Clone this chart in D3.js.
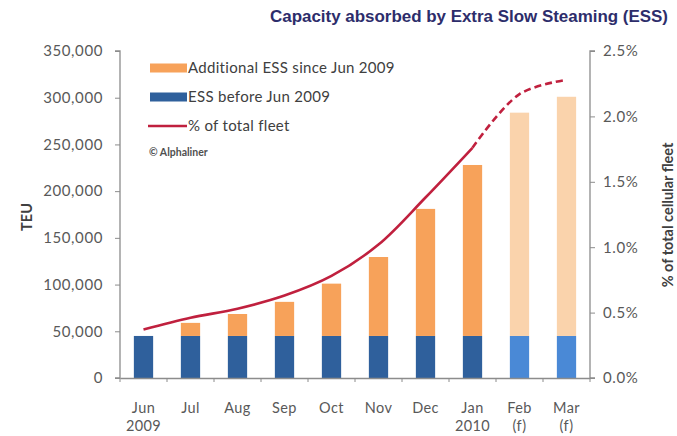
<!DOCTYPE html>
<html>
<head>
<meta charset="utf-8">
<script src="https://cdn.jsdelivr.net/npm/d3@7/dist/d3.min.js"></script>
<style>
  html, body { margin: 0; padding: 0; background: #fff; }
  svg { display: block; }
</style>
</head>
<body>
<svg id="chart" width="677" height="436"></svg>
<script>
// Monthly capacity absorbed by extra slow steaming
const months      = ["Jun", "Jul", "Aug", "Sep", "Oct", "Nov", "Dec", "Jan", "Feb", "Mar"];
const monthSub    = ["2009", "", "", "", "", "", "", "2010", "(f)", "(f)"];
const forecast    = [false, false, false, false, false, false, false, false, true, true];
const essBefore   = [45000, 45000, 45000, 45000, 45000, 45000, 45000, 45000, 45000, 45000];
const essAdded    = [0, 14000, 23500, 36500, 56000, 84500, 136000, 183000, 239000, 256000];
const pctFleet    = [0.37, 0.46, 0.53, 0.63, 0.78, 1.02, 1.38, 1.76, 2.17, 2.28];
const teuTicks    = [0, 50000, 100000, 150000, 200000, 250000, 300000, 350000];
const pctTicks    = [0, 0.5, 1.0, 1.5, 2.0, 2.5];

const svg = d3.select("#chart");
const plotLeft = 120, plotRight = 590, plotTop = 51, plotBottom = 378;
const axisColor = "#8c8c8c", labelColor = "#595959";
const font = "Lato, 'Open Sans', sans-serif";

const x = d3.scaleBand().domain(months).range([plotLeft, plotRight]).paddingInner(0.59).paddingOuter(0.295);
const xStep = d3.scaleBand().domain(months).range([plotLeft, plotRight]);
const y = d3.scaleLinear().domain([0, 350000]).range([plotBottom, plotTop]);
const y2 = d3.scaleLinear().domain([0, 2.5]).range([plotBottom, plotTop]);

// Title
svg.append("text")
  .attr("x", 270).attr("y", 22)
  .attr("font-family", "'Liberation Sans', Arial, sans-serif")
  .attr("font-weight", "bold")
  .attr("font-size", 16)
  .attr("textLength", 398)
  .attr("lengthAdjust", "spacingAndGlyphs")
  .attr("fill", "#2d2d6b")
  .text("Capacity absorbed by Extra Slow Steaming (ESS)");

// Bars
const colors = {
  before: "#2f609c", beforeF: "#4a89d6",
  added: "#f7a25a", addedF: "#fad3ac"
};
const rows = months.map((m, i) => ({ m, before: essBefore[i], added: essAdded[i], f: forecast[i] }));

svg.append("g").selectAll("rect").data(rows).join("rect")
  .attr("x", d => x(d.m)).attr("width", x.bandwidth())
  .attr("y", d => y(d.before)).attr("height", d => y(0) - y(d.before))
  .attr("fill", d => d.f ? colors.beforeF : colors.before);

svg.append("g").selectAll("rect").data(rows.filter(d => d.added > 0)).join("rect")
  .attr("x", d => x(d.m)).attr("width", x.bandwidth())
  .attr("y", d => y(d.before + d.added)).attr("height", d => y(d.before) - y(d.before + d.added))
  .attr("fill", d => d.f ? colors.addedF : colors.added);

// Axes
const yAxis = svg.append("g").attr("transform", `translate(${plotLeft},0)`)
  .call(d3.axisLeft(y).tickValues(teuTicks).tickSize(5).tickPadding(12).tickFormat(d3.format(",")));
const y2Axis = svg.append("g").attr("transform", `translate(${plotRight},0)`)
  .call(d3.axisRight(y2).tickValues(pctTicks).tickSize(5).tickPadding(8).tickFormat(d => d3.format(".1f")(d) + "%"));
const xAxis = svg.append("g").attr("transform", `translate(0,${plotBottom})`)
  .call(d3.axisBottom(xStep).tickSize(0).tickFormat(""));
xAxis.selectAll(".tick").remove();

// x ticks at category boundaries
const bounds = months.map(m => xStep(m)).concat([plotRight]);
svg.append("g").selectAll("line").data(bounds).join("line")
  .attr("x1", d => d).attr("x2", d => d)
  .attr("y1", plotBottom).attr("y2", plotBottom + 4)
  .attr("stroke", axisColor);

[yAxis, y2Axis, xAxis].forEach(g => {
  g.select(".domain").attr("stroke", axisColor).attr("stroke-width", 1.3);
  g.selectAll(".tick line").attr("stroke", axisColor);
  g.selectAll(".tick text").attr("fill", labelColor).attr("font-family", font)
    .attr("font-size", 15).attr("letter-spacing", 0.6);
});
yAxis.select(".domain").attr("d", `M-5,${plotTop}H0V${plotBottom}H-5`);
y2Axis.select(".domain").attr("d", `M5,${plotTop}H0V${plotBottom}H5`);

// Month labels
const xl = svg.append("g").attr("font-family", font).attr("font-size", 14.5).attr("fill", labelColor)
  .attr("text-anchor", "middle").attr("letter-spacing", 0.4);
xl.selectAll("text.m").data(months).join("text").attr("class", "m")
  .attr("x", d => xStep(d) + xStep.bandwidth() / 2).attr("y", 413).text(d => d);
xl.selectAll("text.s").data(months.map((m, i) => ({ m, s: monthSub[i] })).filter(d => d.s)).join("text").attr("class", "s")
  .attr("x", d => xStep(d.m) + xStep.bandwidth() / 2).attr("y", 431).text(d => d.s);

// Axis titles
svg.append("text")
  .attr("transform", "translate(32,217) rotate(-90)")
  .attr("text-anchor", "middle").attr("font-family", font).attr("font-weight", "bold")
  .attr("font-size", 14.5).attr("fill", "#404040").text("TEU");
svg.append("text")
  .attr("transform", "translate(673,215) rotate(-90)")
  .attr("text-anchor", "middle").attr("font-family", font).attr("font-weight", "bold")
  .attr("font-size", 14.5).attr("fill", "#404040").text("% of total cellular fleet");

// Share of fleet line: actual (solid) and forecast (dashed)
const pts = months.map((m, i) => [xStep(m) + xStep.bandwidth() / 2, y2(pctFleet[i])]);
const line = d3.line().curve(d3.curveCatmullRom.alpha(0.5));
const lineColor = "#c0203e";
svg.append("path").attr("d", line(pts.slice(0, 8)))
  .attr("fill", "none").attr("stroke", lineColor).attr("stroke-width", 2.6);
svg.append("path").attr("d", line(pts.slice(7)))
  .attr("fill", "none").attr("stroke", lineColor).attr("stroke-width", 2.6)
  .attr("stroke-dasharray", "7,4");

// Legend
const lg = svg.append("g").attr("font-family", font).attr("font-size", 15).attr("fill", "#404040")
  .attr("letter-spacing", 0.3);
const legend = [
  { label: "Additional ESS since Jun 2009", type: "rect", color: colors.added, y: 68 },
  { label: "ESS before Jun 2009", type: "rect", color: colors.before, y: 97 },
  { label: "% of total fleet", type: "line", color: lineColor, y: 126 }
];
legend.forEach(d => {
  if (d.type === "rect") {
    lg.append("rect").attr("x", 150).attr("y", d.y - 4.5).attr("width", 37).attr("height", 9).attr("fill", d.color);
  } else {
    lg.append("line").attr("x1", 148).attr("x2", 187).attr("y1", d.y).attr("y2", d.y)
      .attr("stroke", d.color).attr("stroke-width", 2.6);
  }
  lg.append("text").attr("x", 188).attr("y", d.y + 5).text(d.label);
});
lg.append("text").attr("x", 149).attr("y", 156).attr("font-size", 10.5).attr("font-weight", "bold")
  .attr("letter-spacing", 0).attr("fill", "#505050").text("© Alphaliner");
</script>
</body>
</html>
